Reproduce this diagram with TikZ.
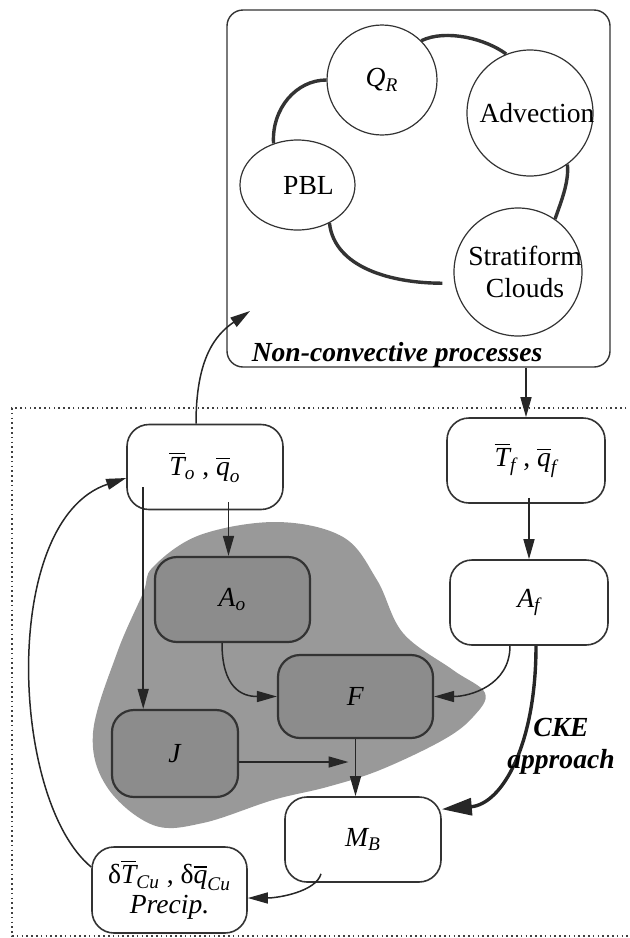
\documentclass[tikz,border=0pt]{standalone}
\usepackage{amsmath}
\usepackage{fontspec}
\setmainfont{Liberation Serif}
\usetikzlibrary{arrows.meta,shapes.geometric}
\newcommand{\iv}[1]{\textit{#1}}
\definecolor{blobgray}{gray}{0.6}
\definecolor{cellgray}{gray}{0.55}
\tikzset{
  var/.style={draw=black!80,line width=0.8pt,rounded corners=11pt,fill=white,
    align=center,inner sep=2pt},
  core/.style={var,fill=cellgray,line width=1.1pt},
  proc/.style={draw=black!80,line width=0.6pt,circle,inner sep=0pt},
  flow/.style={-{Triangle[length=10pt,width=5.5pt]},line width=0.75pt,black!85},
  bigflow/.style={-{Triangle[length=15pt,width=8.5pt]},line width=1.7pt,black!85},
  link/.style={line width=1.7pt,black!80},
  note/.style={font=\fontsize{13.8pt}{16pt}\selectfont\bfseries\itshape},
}

\begin{document}
\begin{tikzpicture}[x=0.5pt,y=-0.5pt,font=\fontsize{13.8pt}{16pt}\selectfont]
\useasboundingbox (0,0) rectangle (629,938);
% dotted frame round the convective part
\draw[black!75,line width=0.8pt,dash pattern=on 0.8pt off 1.6pt]
  (660,408) -- (12,408) -- (12,936) -- (660,936);
% non-convective processes
\node[draw=black!80,line width=0.7pt,rounded corners=8pt,minimum width=191.5pt,
  minimum height=178.5pt] (NC) at (418.5,188.5) {};
\node[note] (NCtitle) at (397,355) {Non-convective processes};
\node[proc,minimum size=55pt] (QR) at (382,80) {$\iv{Q}_{\iv{R}}$};
\node[proc,minimum size=63pt,label={[xshift=3.5pt]center:Advection}] (Adv) at (530,113) {};
\node[proc,ellipse,minimum width=57.5pt,minimum height=45pt,
  label={[xshift=5.5pt]center:PBL}] (PBL) at (297.5,185) {};
\node[proc,minimum size=64pt,
  label={[xshift=3.5pt,align=center]center:Stratiform\\Clouds}] (Strat) at (518,272) {};
\draw[link] (PBL.120) .. controls +(-2,-35) and +(-30,0) .. (QR.west);
\draw[link] (QR.45) .. controls +(25,-12) and +(-20,-15) .. (Adv.112);
\draw[link] (Adv.-54) .. controls +(2,18) and +(5,-15) .. (Strat.55);
\draw[link] (PBL.-50) .. controls +(5,45) and +(-50,0) .. ([xshift=-6pt]Strat.190);
% convective part
\fill[blobgray] plot[smooth cycle,tension=0.6] coordinates {(153,567) (200,535)
  (277,522) (343,537) (377,580) (403,633) (453,670) (485,693) (473,717) (443,740)
  (380,770) (327,787) (273,800) (203,823) (153,825) (107,787) (93,733) (117,653)
  (143,593)};
\node[var,minimum width=78pt,minimum height=42.5pt] (To) at (205,467)
  {$\overline{\iv{T}}_{\iv{o}}$ , $\overline{\iv{q}}_{\iv{o}}$};
\node[var,minimum width=79pt,minimum height=42.5pt] (Tf) at (526,460.5)
  {$\overline{\iv{T}}_{\iv{f}}$ , $\overline{\iv{q}}_{\iv{f}}$};
\node[core,minimum width=77.5pt,minimum height=42.5pt] (Ao) at (232.5,599.5) {$\iv{A}_{\iv{o}}$};
\node[var,minimum width=79pt,minimum height=42.5pt] (Af) at (529,602.5) {$\iv{A}_{\iv{f}}$};
\node[core,minimum width=77.5pt,minimum height=41.5pt] (F) at (355.5,696.5) {\iv{F}};
\node[core,minimum width=63pt,minimum height=43.5pt] (J) at (175,753.5) {\iv{J}};
\node[var,minimum width=78pt,minimum height=42.5pt] (MB) at (363,839.5) {$\iv{M}_{\iv{B}}$};
\node[var,minimum width=77.5pt,minimum height=43pt] (dT) at (169.5,890)
  {δ$\overline{\iv{T}}_{\iv{Cu}}$ , δ$\overline{\iv{q}}_{\iv{Cu}}$\\[-1pt]\iv{Precip.}};
\coordinate (upin) at (250,311);
\draw[flow] ([xshift=-4.5pt]To.north) .. controls +(0,-65) and +(-35,24) .. (upin);
\draw[flow] (Tf.north |- NC.south) -- (Tf.north);
\draw[flow] ([xshift=-2pt,yshift=4pt]Ao.north |- To.south) -- ([xshift=-2pt]Ao.north);
\draw[flow] ([xshift=8.5pt,yshift=11.5pt]To.south west) -- ([xshift=8.5pt]To.south west |- J.north);
\draw[flow] ([yshift=3pt]Af.north |- Tf.south) -- (Af.north);
\draw[flow] ([xshift=-5.25pt]Ao.south) .. controls +(0,45) and +(-35,0) .. (F.west);
\draw[flow] ([xshift=-9.5pt]Af.south) .. controls +(0,40) and +(35,0) .. (F.east);
\draw[flow] ([yshift=-4.25pt]J.east) -- ([xshift=-3.5pt,yshift=-4.25pt]J.east -| F.south);
\draw[flow] (F.south) -- (F.south |- MB.north);
\draw[bigflow] ([xshift=3.5pt]Af.south) .. controls +(0,100) and +(60,-5) .. ([yshift=-6.5pt]MB.north east);
\node[note,align=center] (cke) at (561,746) {CKE\\approach};
\draw[flow] ([xshift=-21pt,yshift=4.5pt]MB.south) .. controls +(-5,18) and +(30,0) .. ([yshift=-4pt]dT.east);
\draw[flow] ([yshift=11.5pt]dT.west) .. controls (10,800) and (0,520) .. ([yshift=-5.5pt]To.west);
\end{tikzpicture}
\end{document}
